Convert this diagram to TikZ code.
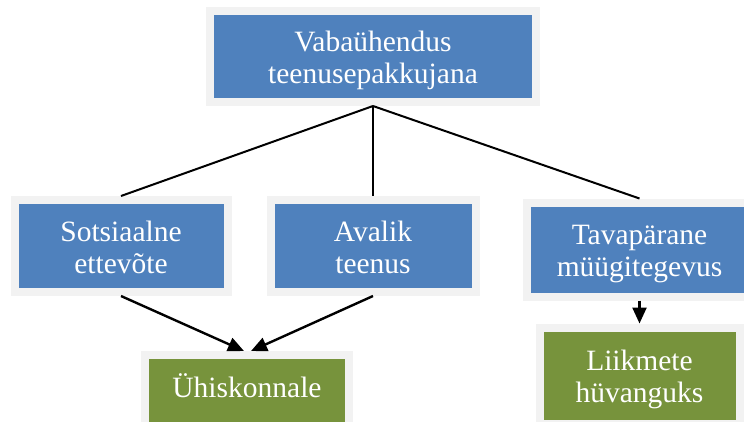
\documentclass[tikz,border=0pt]{standalone}
\usepackage{fontspec}
\setmainfont{Liberation Serif}
\usetikzlibrary{arrows.meta,positioning,calc}

\definecolor{boxblue}{HTML}{4F81BD}
\definecolor{boxgreen}{HTML}{77933C}
\definecolor{rim}{HTML}{F2F2F2}

\tikzset{
  box/.style={draw=rim, line width=8pt, text=white, align=center,
    font=\fontsize{29.5}{32}\selectfont, text height=54pt, text depth=0pt},
  bluebox/.style={box, fill=boxblue},
  greenbox/.style={box, fill=boxgreen},
  link/.style={line width=2pt},
  pointer/.style={line width=2.4pt, -{Triangle[length=16pt,width=14pt]}}
}

\begin{document}
\begin{tikzpicture}[x=1pt, y=-1pt, node distance=35pt]
    \useasboundingbox (0,0) rectangle (744,421);
    \node[bluebox, minimum width=326pt, minimum height=91pt] (vab) at (373,56.5) {Vabaühendus\\teenusepakkujana};
    \node[bluebox, minimum width=205pt, minimum height=92pt, below=90pt of vab] (aval) {Avalik\\teenus};
    \node[bluebox, minimum width=213pt, minimum height=92pt, left=of aval] (sots) {Sotsiaalne\\ettevõte};
    \node[bluebox, minimum width=226pt, minimum height=94pt, right=43pt of aval, yshift=-3.5pt] (tava) {Tavapärane\\müügitegevus};

    % tulemused
    \coordinate (mid) at ($(sots.south)!0.5!(aval.south)$);
    \node[greenbox, minimum width=204pt, minimum height=92pt, text height=20pt, text depth=28pt, below=55pt of mid] (uhis) {Ühiskonnale};
    \node[greenbox, minimum width=200pt, minimum height=96pt, below=23pt of tava] (liik) {Liikmete\\hüvanguks};

    \draw[link] (vab.south) -- (sots.north);
    \draw[link] (vab.south) -- (aval.north);
    \draw[link] (vab.south) -- (tava.north);
    \draw[pointer] (sots.south) -- ([xshift=-3pt]uhis.north);
    \draw[pointer] (aval.south) -- ([xshift=4pt]uhis.north);
    \draw[pointer] (tava.south) -- (liik.north);
\end{tikzpicture}
\end{document}
